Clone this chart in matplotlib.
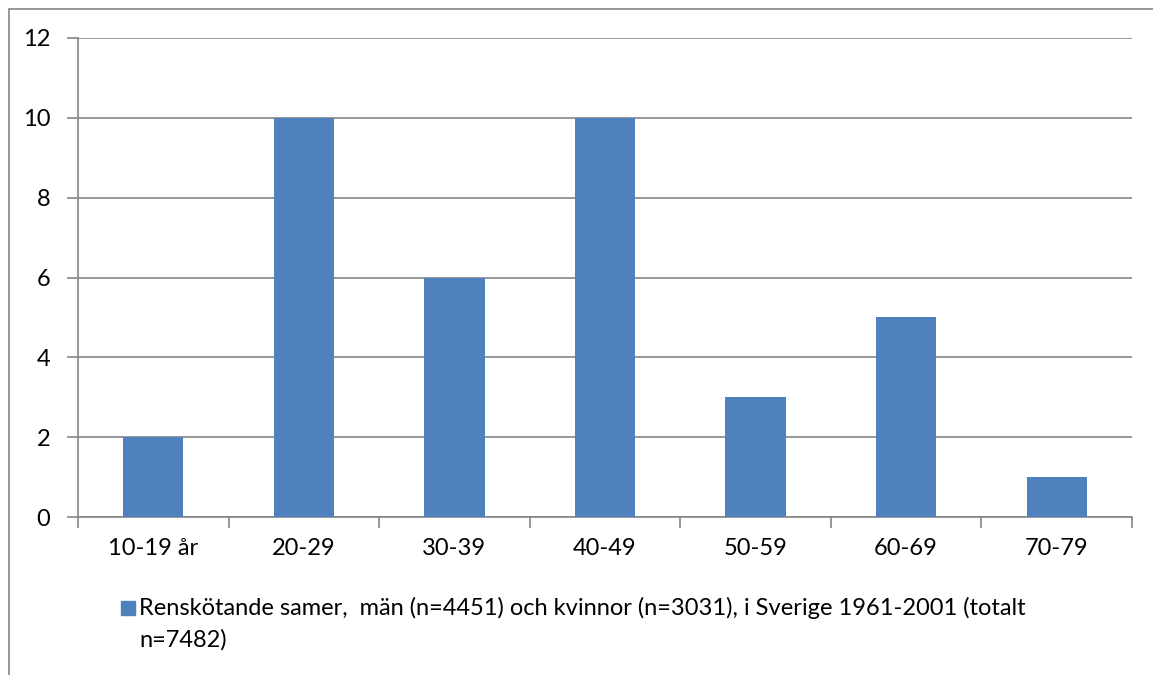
import matplotlib.pyplot as plt
from matplotlib.patches import Rectangle

# age groups and counts
groups = ["10-19 år", "20-29", "30-39", "40-49", "50-59", "60-69", "70-79"]
counts = [2, 10, 6, 10, 3, 5, 1]
legend_lines = ["Renskötande samer,  män (n=4451) och kvinnor (n=3031), i Sverige 1961-2001 (totalt",
                "n=7482)"]

bar_color = "#4F81BD"
grid_color = "#868686"

plt.rcParams['font.family'] = ['Lato', 'DejaVu Sans']

fig = plt.figure(figsize=(11.53, 6.75), dpi=100)
ax = fig.add_axes([78/1153, 1 - 517/675, (1132-78)/1153, (517-38)/675])

x = list(range(len(groups)))
ax.bar(x, counts, width=0.4, color=bar_color, zorder=3)

ax.set_xlim(-0.5, len(groups) - 0.5)
ax.set_ylim(0, 12)
ax.set_yticks(range(0, 13, 2))
ax.set_xticks(x)
ax.set_xticklabels(groups)
ax.set_xticks([i - 0.5 for i in range(len(groups) + 1)], minor=True)

ax.yaxis.grid(True, color=grid_color, linewidth=1.2, zorder=0)
for s in ["top", "right"]:
    ax.spines[s].set_visible(False)
ax.spines["left"].set_color(grid_color)
ax.spines["bottom"].set_color(grid_color)
ax.spines["left"].set_linewidth(1.2)
ax.spines["bottom"].set_linewidth(1.2)

ax.tick_params(axis="y", length=8, width=1.2, color=grid_color, pad=12, labelsize=17)
ax.tick_params(axis="x", which="major", length=0, pad=15, labelsize=17)
ax.tick_params(axis="x", which="minor", length=8, width=1.2, color=grid_color)

# legend drawn by hand to keep the wrapped text layout
fig.patches.append(Rectangle((121/1153, 1 - 615/675), 14/1153, 14/675,
                             transform=fig.transFigure, color=bar_color))
for i, line in enumerate(legend_lines):
    fig.text(139/1153, 1 - (608 + 32 * i)/675, line, fontsize=17, va="center",
             ha="left", transform=fig.transFigure)

# outer chart border
fig.patches.append(Rectangle((9/1153, -0.1), 1.2, 1 - 9/675 + 0.1,
                             transform=fig.transFigure, fill=False,
                             edgecolor=grid_color, linewidth=1.2))

fig.savefig("out.png", dpi=100)
